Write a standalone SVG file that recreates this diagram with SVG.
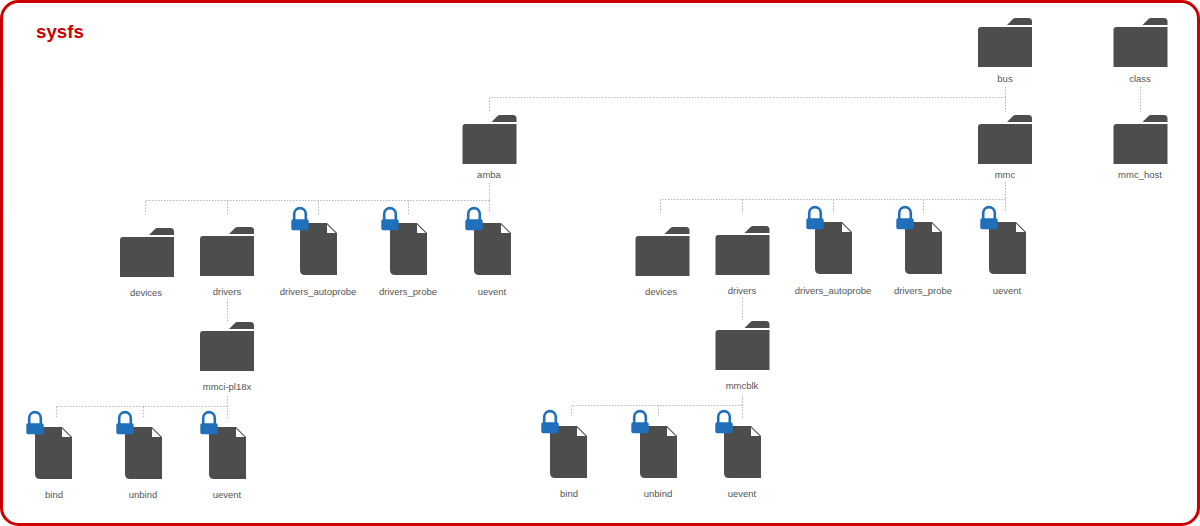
<svg xmlns="http://www.w3.org/2000/svg" width="1200" height="526" viewBox="0 0 1200 526">
<style>
text{font-family:"Liberation Sans",Arial,sans-serif;font-size:9.500px;fill:#555555;text-anchor:middle}
#title{font-size:18.700px;font-weight:bold;fill:#cc0000;text-anchor:start}
#connectors path{fill:none;stroke:#b8b8b8;stroke-width:1;stroke-dasharray:1.5 1.5}
</style>
<defs>
<g id="folder">
<path fill="#4d4d4d" d="M29,7 L35,1 Q36,0 37.500,0 H50.500 Q54,0 54,3.500 V7 Z"/>
<path fill="#4d4d4d" d="M3,9 H54 V49 H0 V12 Q0,9 3,9 Z"/>
</g>
<g id="file">
<path fill="#4d4d4d" d="M0,0 H27 L37,10 V52 H5 Q0,52 0,47 Z"/>
<path fill="#ffffff" d="M27,1.500 L35.500,10 H27 Z"/>
</g>
<g id="lockedfile">
<use href="#file" x="0" y="0"/>
<path fill="none" stroke="#1f6fba" stroke-width="2.600" d="M-5.800,-3 V-9 C-5.800,-16.800 5.800,-16.800 5.800,-9 V-3"/>
<rect x="-8.700" y="-3.800" width="17.400" height="11" rx="1.800" fill="#1f6fba"/>
</g>
</defs>
<rect x="1.500" y="1.500" width="1197" height="523" rx="17" fill="#ffffff" stroke="#cc0000" stroke-width="3"/>
<text id="title" x="36" y="38">sysfs</text>
<g id="connectors">
<path d="M1005.500,87V112M1005.500,97.500H489.500V112"/>
<path d="M1140.500,87V112"/>
<path d="M489.500,183V213M489.500,200.500H145.500V214M227.500,200.500V214M318.500,200.500V214M408.500,200.500V214"/>
<path d="M1005.500,182V212M1005.500,199.500H660.500V213M742.500,199.500V213M833.500,199.500V213M923.500,199.500V213"/>
<path d="M227.500,299V321"/>
<path d="M742.500,298V320"/>
<path d="M227.500,396V420M227.500,406.500H56.500V418M143.500,406.500V418"/>
<path d="M742.500,395V419M742.500,405.500H571.500V417M658.500,405.500V417"/>
</g>
<g id="bus"><use href="#folder" x="978" y="18"/><text x="1005" y="82">bus</text></g>
<g id="class"><use href="#folder" x="1113.500" y="18"/><text x="1140" y="82">class</text></g>
<g id="amba"><use href="#folder" x="462.500" y="115"/><text x="489" y="178">amba</text></g>
<g id="mmc"><use href="#folder" x="978" y="115"/><text x="1005" y="178">mmc</text></g>
<g id="mmc_host"><use href="#folder" x="1113.500" y="115"/><text x="1140" y="178">mmc_host</text></g>
<g id="amba-devices"><use href="#folder" x="120" y="228"/><text x="146" y="296">devices</text></g>
<g id="amba-drivers"><use href="#folder" x="200" y="227"/><text x="227" y="295">drivers</text></g>
<g id="amba-drivers_autoprobe"><use href="#lockedfile" x="300" y="223"/><text x="318" y="295">drivers_autoprobe</text></g>
<g id="amba-drivers_probe"><use href="#lockedfile" x="390" y="223"/><text x="408" y="295">drivers_probe</text></g>
<g id="amba-uevent"><use href="#lockedfile" x="474" y="223"/><text x="492" y="295">uevent</text></g>
<g id="mmci-pl18x"><use href="#folder" x="200" y="322"/><text x="227" y="390">mmci-pl18x</text></g>
<g id="amba-bind"><use href="#lockedfile" x="35" y="427"/><text x="54" y="498">bind</text></g>
<g id="amba-unbind"><use href="#lockedfile" x="125" y="427"/><text x="143" y="498">unbind</text></g>
<g id="amba-uevent2"><use href="#lockedfile" x="209" y="427"/><text x="227" y="498">uevent</text></g>
<g id="mmc-devices"><use href="#folder" x="635.500" y="227"/><text x="661" y="295">devices</text></g>
<g id="mmc-drivers"><use href="#folder" x="715.500" y="226"/><text x="742" y="294">drivers</text></g>
<g id="mmc-drivers_autoprobe"><use href="#lockedfile" x="815" y="222"/><text x="833" y="294">drivers_autoprobe</text></g>
<g id="mmc-drivers_probe"><use href="#lockedfile" x="905" y="222"/><text x="923" y="294">drivers_probe</text></g>
<g id="mmc-uevent"><use href="#lockedfile" x="989" y="222"/><text x="1007" y="294">uevent</text></g>
<g id="mmcblk"><use href="#folder" x="715.500" y="321"/><text x="742" y="389">mmcblk</text></g>
<g id="mmc-bind"><use href="#lockedfile" x="550" y="426"/><text x="569" y="497">bind</text></g>
<g id="mmc-unbind"><use href="#lockedfile" x="640" y="426"/><text x="658" y="497">unbind</text></g>
<g id="mmc-uevent2"><use href="#lockedfile" x="724" y="426"/><text x="742" y="497">uevent</text></g>
</svg>
